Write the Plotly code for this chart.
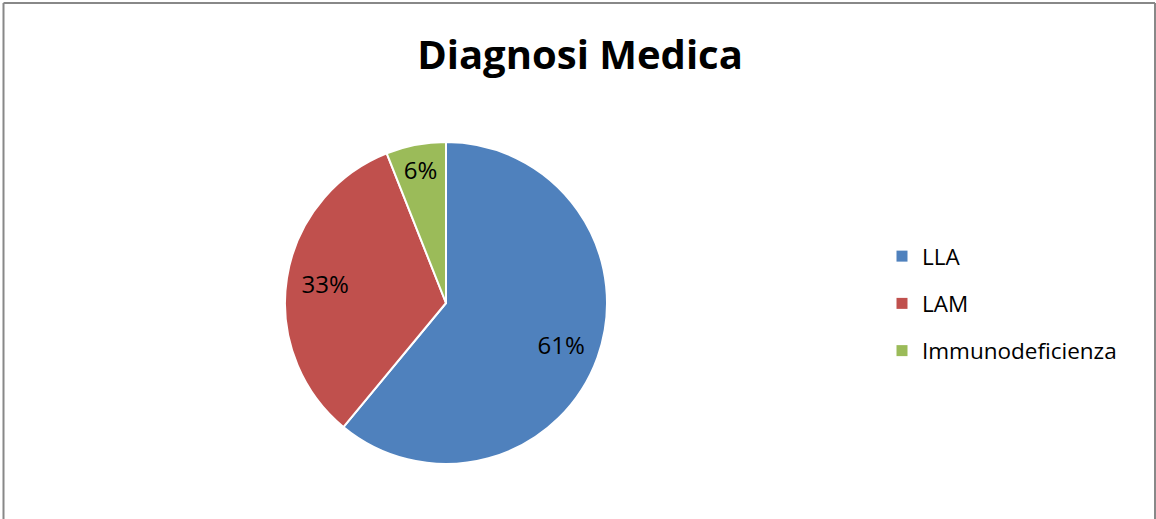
import plotly.graph_objects as go

categories = ["LLA", "LAM", "Immunodeficienza"]
values = [61, 33, 6]
colors = ["#4F81BD", "#C0504D", "#9BBB59"]
title_text = "Diagnosi Medica"

W, H = 1156, 519
cx, cy, r = 446, 303, 161
dom = dict(x=[(cx - r) / W, (cx + r) / W], y=[1 - (cy + r) / H, 1 - (cy - r) / H])

fig = go.Figure()
# slices
fig.add_trace(go.Pie(
    labels=categories, values=values, sort=False, direction="clockwise", rotation=0,
    marker=dict(colors=colors, line=dict(color="white", width=2)),
    textinfo="none", hoverinfo="label+percent", showlegend=False, domain=dom,
))
# percentage labels (transparent ring so labels sit at ~3/4 radius)
fig.add_trace(go.Pie(
    labels=categories, values=values, sort=False, direction="clockwise", rotation=0,
    hole=0.52,
    marker=dict(colors=["rgba(0,0,0,0)"] * len(values), line=dict(width=0)),
    texttemplate="%{percent:.0%}", textposition="inside", insidetextorientation="horizontal",
    textfont=dict(family="Open Sans", size=24, color="black"),
    hoverinfo="skip", showlegend=False, domain=dom,
))
# legend entries
for name, col in zip(categories, colors):
    fig.add_trace(go.Scatter(
        x=[None], y=[None], mode="markers", name=name, legendgroup=name,
        marker=dict(symbol="square", size=11, color=col), showlegend=True,
    ))

fig.update_layout(
    width=W, height=H,
    margin=dict(l=0, r=0, t=0, b=0),
    paper_bgcolor="white",
    plot_bgcolor="white",
    xaxis=dict(visible=False),
    yaxis=dict(visible=False),
    title=dict(text="<b>" + title_text + "</b>", x=580 / W, xanchor="center",
               y=1 - 55 / H, yanchor="middle",
               font=dict(family="Open Sans", size=40, color="black")),
    legend=dict(x=882 / W, y=1 - 235 / H, xanchor="left", yanchor="top",
                font=dict(family="Open Sans", size=22.5, color="black"),
                itemwidth=30, tracegroupgap=15, itemsizing="trace"),
    showlegend=True,
    shapes=[
        dict(type="line", xref="paper", yref="paper", x0=3.5 / W, x1=3.5 / W, y0=0, y1=1 - 3 / H,
             line=dict(color="#888888", width=2)),
        dict(type="line", xref="paper", yref="paper", x0=3.5 / W, x1=1155 / W, y0=1 - 3 / H, y1=1 - 3 / H,
             line=dict(color="#888888", width=2)),
        dict(type="line", xref="paper", yref="paper", x0=1155 / W, x1=1155 / W, y0=0, y1=1 - 3 / H,
             line=dict(color="#888888", width=2)),
    ],
)

fig.write_html("out.html")
